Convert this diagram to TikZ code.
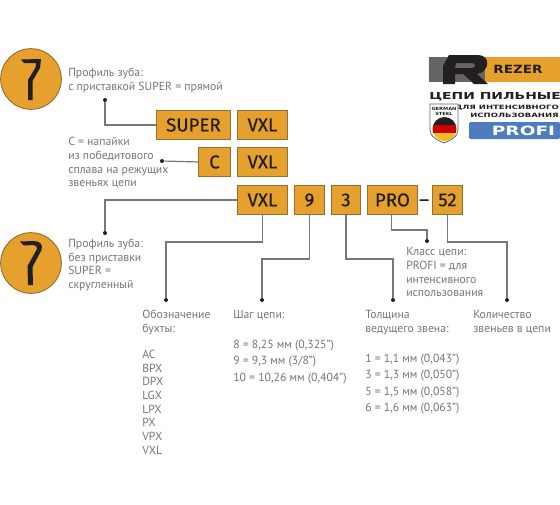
\documentclass[tikz,border=0pt]{standalone}
\usepackage{fontspec}
\setmainfont{PT Sans}
\newfontfamily\boxfont{Fira Sans}[FakeBold=0.5]
\newfontfamily\wide{DejaVu Sans}[FakeStretch=1.45]
\newfontfamily\widea{DejaVu Sans}[FakeStretch=1.2]
\definecolor{amb}{HTML}{E5A02D}
\definecolor{ambd}{HTML}{8F7038}
\definecolor{lin}{HTML}{77777A}
\definecolor{txt}{HTML}{767678}
\definecolor{blu}{HTML}{4F7CBF}
\definecolor{ink}{HTML}{231F20}
\tikzset{
 code/.style={draw=ambd,line width=0.7pt,fill=amb,inner sep=0pt,text=ink,font=\boxfont\fontsize{14}{14}\selectfont},
 wire/.style={draw=lin,line width=0.9pt},
 dotend/.style={circle,fill=ink,inner sep=0pt,minimum size=3pt},
 lab/.style={anchor=base west,inner sep=0pt,text=txt,font=\fontsize{8.8}{8.8}\selectfont},
 badge/.style={draw=ambd,line width=0.7pt,fill=amb}
}
\newcommand{\codebox}[6]{\node[code,minimum width=#3*0.75pt,minimum height=#4*0.75pt,anchor=north west] (#1) at (#2,#5) {#6};}
\begin{document}
\begin{tikzpicture}[x=0.75pt,y=-0.75pt]
\useasboundingbox (0,0) rectangle (560,504);
\fill[white] (0,0) rectangle (560,504);
% badges
\node[badge,circle,minimum size=45.5pt,inner sep=0pt] (b1) at (31,79) {};
\node[badge,circle,minimum size=45.5pt,inner sep=0pt] (b2) at (31,263) {};
\fill[ink] (21,59.5) -- (41,59) -- (40,68) -- (32.5,81) -- (32.5,100) -- (28,100) -- (28,80) -- (35.5,67.5) -- (36,63) -- (24,63) -- cycle;
\fill[ink] (20,241.5) -- (34,241) .. controls (40.5,241) and (43,245) .. (41.5,250) -- (32.5,267) -- (33,285) -- (28,285) -- (27.5,266) -- (37,249) .. controls (37.5,246.5) and (36,245) .. (33,245) -- (24,245.5) -- cycle;
% code boxes
\codebox{super}{156}{74}{29}{110}{SUPER}
\codebox{vxla}{237}{50}{29}{110}{VXL}
\codebox{c}{198}{32}{29}{147}{C}
\codebox{vxlb}{237}{50}{29}{147}{VXL}
\codebox{vxl}{237}{50}{29}{185}{VXL}
\codebox{nine}{294}{30}{29}{185}{9}
\codebox{three}{331}{29}{29}{185}{3}
\codebox{pro}{367}{50}{29}{185}{PRO}
\codebox{ff}{432}{30}{29}{185}{52}
\node[text=ink,inner sep=0pt,anchor=base,font=\boxfont\fontsize{14}{14}\selectfont] (dash) at (424,206) {–};
% connector ends
\node[dotend] (d1) at (105,100) {};
\node[dotend] (d2) at (162,161) {};
\node[dotend] (d3) at (105,233) {};
\node[dotend] (d4) at (166,300) {};
\node[dotend] (d5) at (262,300) {};
\node[dotend] (d6) at (393,300) {};
\node[dotend] (d7) at (427,241) {};
\node[dotend] (d8) at (507,300) {};
\draw[wire] (d1) |- (super.west);
\draw[wire] (d2) -- (c.west);
\draw[wire] (d3) |- (vxl.west);
\draw[wire] (vxl.south) -- ++(0,27) -| (d4);
\draw[wire] (nine.south) -- ++(0,44) -| (d5);
\draw[wire] (three.south) -- ++(0,44) -| (d6);
\draw[wire] ([xshift=-0.75pt]pro.south) -- ++(0,15) -| (d7);
\draw[wire] (ff.south) -- ++(0,27) -| (d8);
% labels
\node[lab] (t1) at (68,76) {Профиль зуба:};
\node[lab] (t2) at (68,90) {с приставкой SUPER = прямой};
\node[lab] (t3) at (68,145) {С = напайки};
\node[lab] (t4) at (68,159) {из победитового};
\node[lab] (t5) at (68,173) {сплава на режущих};
\node[lab] (t6) at (68,186) {звеньях цепи};
\node[lab] (t7) at (68,247) {Профиль зуба:};
\node[lab] (t8) at (68,261) {без приставки};
\node[lab] (t9) at (68,274) {SUPER =};
\node[lab] (t10) at (68,288) {скругленный};
\node[lab] (u1) at (142,318) {Обозначение};
\node[lab] (u2) at (142,332) {бухты:};
\node[lab] (u3) at (142,358) {AC};
\node[lab] (u4) at (142,372) {BPX};
\node[lab] (u5) at (142,385) {DPX};
\node[lab] (u6) at (142,399) {LGX};
\node[lab] (u7) at (142,413) {LPX};
\node[lab] (u8) at (142,426) {PX};
\node[lab] (u9) at (142,440) {VPX};
\node[lab] (u10) at (142,454) {VXL};
\node[lab] (s1) at (233,318) {Шаг цепи:};
\node[lab] (s2) at (233,348) {8 = 8,25 мм (0,325'')};
\node[lab] (s3) at (233,364) {9 = 9,3 мм (3/8'')};
\node[lab] (s4) at (233,381) {10 = 10,26 мм (0,404'')};
\node[lab] (h1) at (365,318) {Толщина};
\node[lab] (h2) at (365,332) {ведущего звена:};
\node[lab] (h3) at (365,362) {1 = 1,1 мм (0,043'')};
\node[lab] (h4) at (365,378) {3 = 1,3 мм (0,050'')};
\node[lab] (h5) at (365,395) {5 = 1,5 мм (0,058'')};
\node[lab] (h6) at (365,411) {6 = 1,6 мм (0,063'')};
\node[lab] (k1) at (406,255) {Класс цепи:};
\node[lab] (k2) at (406,269) {PROFI = для};
\node[lab] (k3) at (406,283) {интенсивного};
\node[lab] (k4) at (406,296) {использования};
\node[lab] (n1) at (473,318) {Количество};
\node[lab] (n2) at (473,332) {звеньев в цепи};
% logo
\fill[lin!85!black] (429,57) rectangle (485,82);
\fill[amb] (485,57) rectangle (560,82);
\fill[ink,even odd rule] (449,55) -- (478,55) .. controls (491,55) and (490,72) .. (477,74) -- (488,84) -- (474,84) -- (463,74) -- (455,74) -- (455,84) -- (443,84) -- (443,66) -- cycle
 (456,63) -- (455,68) -- (472,68) .. controls (476,68) and (476,63) .. (472,63) -- cycle;
\node[inner sep=0pt,text=ink,font=\widea\bfseries\fontsize{8.5}{8.5}\selectfont] (rz) at (518,69) {REZER};
\node[inner sep=0pt,text=ink,anchor=west,font=\wide\bfseries\fontsize{7.2}{7.2}\selectfont] (cp) at (429,96.5) {ЦЕПИ ПИЛЬНЫЕ};
\node[inner sep=0pt,text=ink,anchor=east,font=\wide\bfseries\fontsize{4.4}{4.4}\selectfont] (dl) at (559,108) {ДЛЯ ИНТЕНСИВНОГО};
\node[inner sep=0pt,text=ink,anchor=east,font=\wide\bfseries\fontsize{4.4}{4.4}\selectfont] (is) at (559,115.5) {ИСПОЛЬЗОВАНИЯ};
\fill[blu,rounded corners=1pt] (469,122) rectangle (560,139);
\node[inner sep=0pt,text=white,font=\wide\bfseries\fontsize{9.6}{9.6}\selectfont] (pf) at (523.5,130.5) {PROFI};
% shield
\draw[ink!70,line width=0.6pt,fill=white] (430,104) -- (458,104) -- (458,130) .. controls (458,137) and (451,140) .. (444,143) .. controls (437,140) and (430,137) .. (430,130) -- cycle;
\node[inner sep=0pt,text=ink,font=\widea\bfseries\fontsize{3.2}{3.2}\selectfont] (gs1) at (444,108.5) {GERMAN};
\node[inner sep=0pt,text=ink,font=\widea\bfseries\fontsize{3.2}{3.2}\selectfont] (gs2) at (444,113.5) {STEEL};
\begin{scope}
\clip (444.5,129) circle (12);
\fill[ink] (431,117) rectangle (458,125);
\fill[red!80!black] (431,125) rectangle (458,133);
\fill[amb!70!yellow] (431,133) rectangle (458,142);
\end{scope}
\end{tikzpicture}
\end{document}
